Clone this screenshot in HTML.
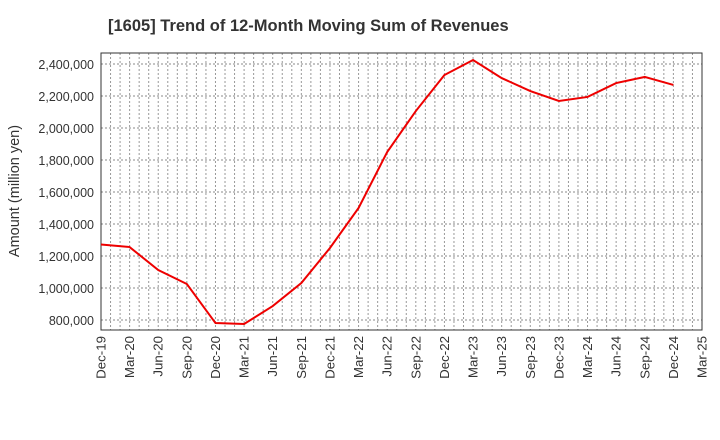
<!DOCTYPE html>
<html><head><meta charset="utf-8"><style>
body{margin:0;background:#fff;}
svg{display:block;font-family:"Liberation Sans",sans-serif;}
</style></head><body>
<svg id="chart" width="720" height="440" viewBox="0 0 720 440">
<text x="108" y="31" font-size="16.5" font-weight="bold" fill="#333">[1605]  Trend of 12-Month Moving Sum of Revenues</text>
<text transform="translate(19,191) rotate(-90)" text-anchor="middle" font-size="14.5" fill="#333">Amount (million yen)</text>
<g id="grid"></g><g id="axes"></g><g id="series"></g>
</svg>
<script>
const categories=["Dec-19","Mar-20","Jun-20","Sep-20","Dec-20","Mar-21","Jun-21","Sep-21","Dec-21","Mar-22","Jun-22","Sep-22","Dec-22","Mar-23","Jun-23","Sep-23","Dec-23","Mar-24","Jun-24","Sep-24","Dec-24","Mar-25"];
const revenues=[1272000,1256000,1112000,1025000,781000,775000,887000,1031000,1250000,1500000,1850000,2106000,2331000,2425000,2312000,2231000,2169000,2194000,2281000,2319000,2269000];
const yTicks=[800000,1000000,1200000,1400000,1600000,1800000,2000000,2200000,2400000];
const L=101,R=702,T=53,B=330,yMin=737500,yMax=2468750;
const NS="http://www.w3.org/2000/svg";
const xs=i=>L+i*(R-L)/(categories.length-1);
const ys=v=>B-(v-yMin)/(yMax-yMin)*(B-T);
function mk(t,a,p){const e=document.createElementNS(NS,t);for(const k in a)e.setAttribute(k,a[k]);p.appendChild(e);return e;}
const grid=document.getElementById('grid'),axes=document.getElementById('axes'),ser=document.getElementById('series');
const nm=(categories.length-1)*3;
for(let m=1;m<nm;m++){const x=L+m*(R-L)/nm;
const g=mk('line',{x1:x,x2:x,y1:T,y2:B,stroke:'#999','stroke-dasharray':'2,2','stroke-width':1},grid);

}
yTicks.forEach(v=>{const y=ys(v);
const g=mk('line',{x1:L,x2:R,y1:y,y2:y,stroke:'#888','stroke-dasharray':'2,2','stroke-width':1},grid);


const t=mk('text',{x:L-7,y:y+5,'text-anchor':'end','font-size':12.5,fill:'#333'},axes);
t.textContent=v.toLocaleString('en-US');

});
const fr=mk('rect',{x:L,y:T,width:R-L,height:B-T,fill:'none',stroke:'#333','stroke-width':1},axes);


categories.forEach((c,i)=>{const x=xs(i);
const t=mk('text',{transform:`translate(${x+4.5},${B+6}) rotate(-90)`,'text-anchor':'end','font-size':13.3,fill:'#333'},axes);
t.textContent=c;

});
const pts=revenues.map((v,i)=>xs(i)+','+ys(v)).join(' ');
const pl=mk('polyline',{points:pts,fill:'none',stroke:'#ee0000','stroke-width':2},ser);


</script>
</body></html>
